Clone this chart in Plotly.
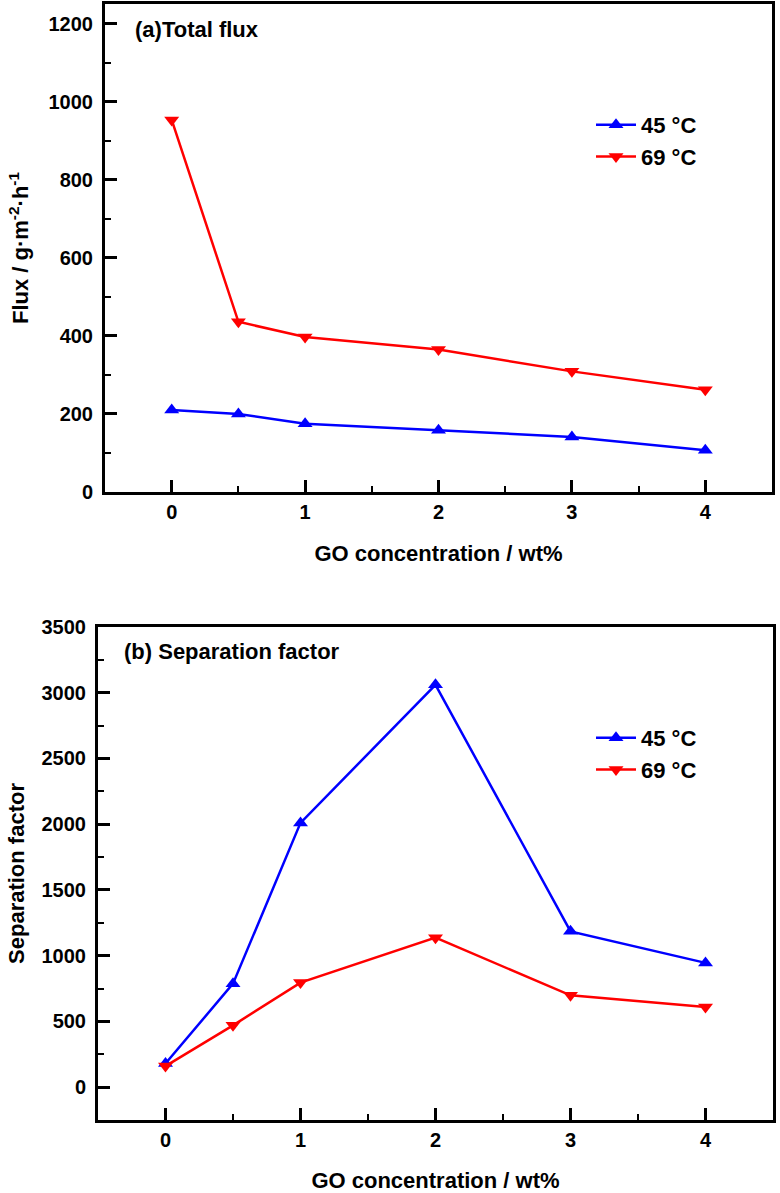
import plotly.graph_objects as go

go_conc = [0, 0.5, 1, 2, 3, 4]
flux_45 = [210, 200, 175, 158, 141, 107]
flux_69 = [953, 436, 397, 365, 309, 262]
sep_45 = [180, 787, 2010, 3060, 1185, 945]
sep_69 = [160, 470, 795, 1137, 698, 609]
series_names = ["45 °C", "69 °C"]
x_ticks = [0, 1, 2, 3, 4]
flux_ticks = [0, 200, 400, 600, 800, 1000, 1200]
sep_ticks = [0, 500, 1000, 1500, 2000, 2500, 3000, 3500]

BLUE = "#0000FF"
RED = "#FF0000"
FONT = "Liberation Sans"

fig = go.Figure()

def add(x, y, name, color, symbol, xa, ya, legend):
    fig.add_trace(go.Scatter(
        x=x, y=y, name=name, mode="lines+markers",
        line=dict(color=color, width=2.5),
        marker=dict(symbol=symbol, size=13, color=color),
        xaxis=xa, yaxis=ya, legend=legend))

add(go_conc, flux_45, series_names[0], BLUE, "triangle-up", "x", "y", "legend")
add(go_conc, flux_69, series_names[1], RED, "triangle-down", "x", "y", "legend")
add(go_conc, sep_45, series_names[0], BLUE, "triangle-up", "x2", "y2", "legend2")
add(go_conc, sep_69, series_names[1], RED, "triangle-down", "x2", "y2", "legend2")

tickfont = dict(family=FONT, size=20, color="black", weight="bold")
titlefont = dict(family=FONT, size=22, color="black", weight="bold")

def xaxis(domain, anchor, standoff):
    return dict(domain=domain, anchor=anchor, range=[-0.5, 4.5], automargin=False,
                tickvals=x_ticks, ticks="inside", ticklen=12, tickwidth=2.5,
                tickcolor="black", showline=True, linewidth=3, linecolor="black",
                mirror=True, showgrid=False, zeroline=False, tickfont=tickfont,
                minor=dict(dtick=0.5, tick0=0, ticks="inside", ticklen=6,
                           tickwidth=2, tickcolor="black"),
                title=dict(text="GO concentration / wt%", font=titlefont, standoff=standoff))

def yaxis(domain, anchor, rng, tv, minor_dt, title, standoff):
    return dict(domain=domain, anchor=anchor, range=rng, tickvals=tv, automargin=False,
                ticks="inside", ticklen=12, tickwidth=2.5, tickcolor="black",
                showline=True, linewidth=3, linecolor="black", mirror=True,
                showgrid=False, zeroline=False, tickfont=tickfont, ticklabelstandoff=5,
                minor=dict(dtick=minor_dt, tick0=0, ticks="inside", ticklen=6,
                           tickwidth=2, tickcolor="black"),
                title=dict(text=title, font=titlefont, standoff=standoff))

H = 1193.0
W = 780.0
fig.update_layout(
    width=780, height=1193,
    margin=dict(l=0, r=0, t=0, b=0),
    paper_bgcolor="white", plot_bgcolor="white",
    xaxis=xaxis([105 / W, 772 / W], "y", 24),
    yaxis=yaxis([(H - 492) / H, (H - 4) / H], "x", [0, 1250], flux_ticks, 100,
                "Flux / g·m<sup>-2</sup>·h<sup>-1</sup>", 14),
    xaxis2=xaxis([98 / W, 773 / W], "y2", 26),
    yaxis2=yaxis([(H - 1120) / H, (H - 627) / H], "x2", [-250, 3500], sep_ticks, 250,
                 "Separation factor", 11),
    legend=dict(x=591 / W, y=(H - 104) / H, xanchor="left", yanchor="top",
                bgcolor="rgba(0,0,0,0)", font=titlefont, itemwidth=40),
    legend2=dict(x=591 / W, y=(H - 717) / H, xanchor="left", yanchor="top",
                 bgcolor="rgba(0,0,0,0)", font=titlefont, itemwidth=40),
    annotations=[
        dict(text="(a)Total flux", x=133 / W, y=(H - 30) / H, xref="paper", yref="paper",
             xanchor="left", yanchor="middle", showarrow=False, font=titlefont),
        dict(text="(b) Separation factor", x=122 / W, y=(H - 651) / H, xref="paper",
             yref="paper", xanchor="left", yanchor="middle", showarrow=False, font=titlefont),
    ],
)

fig.write_html("out.html", config={"displayModeBar": False},
               post_script="document.body.style.margin='0';")
